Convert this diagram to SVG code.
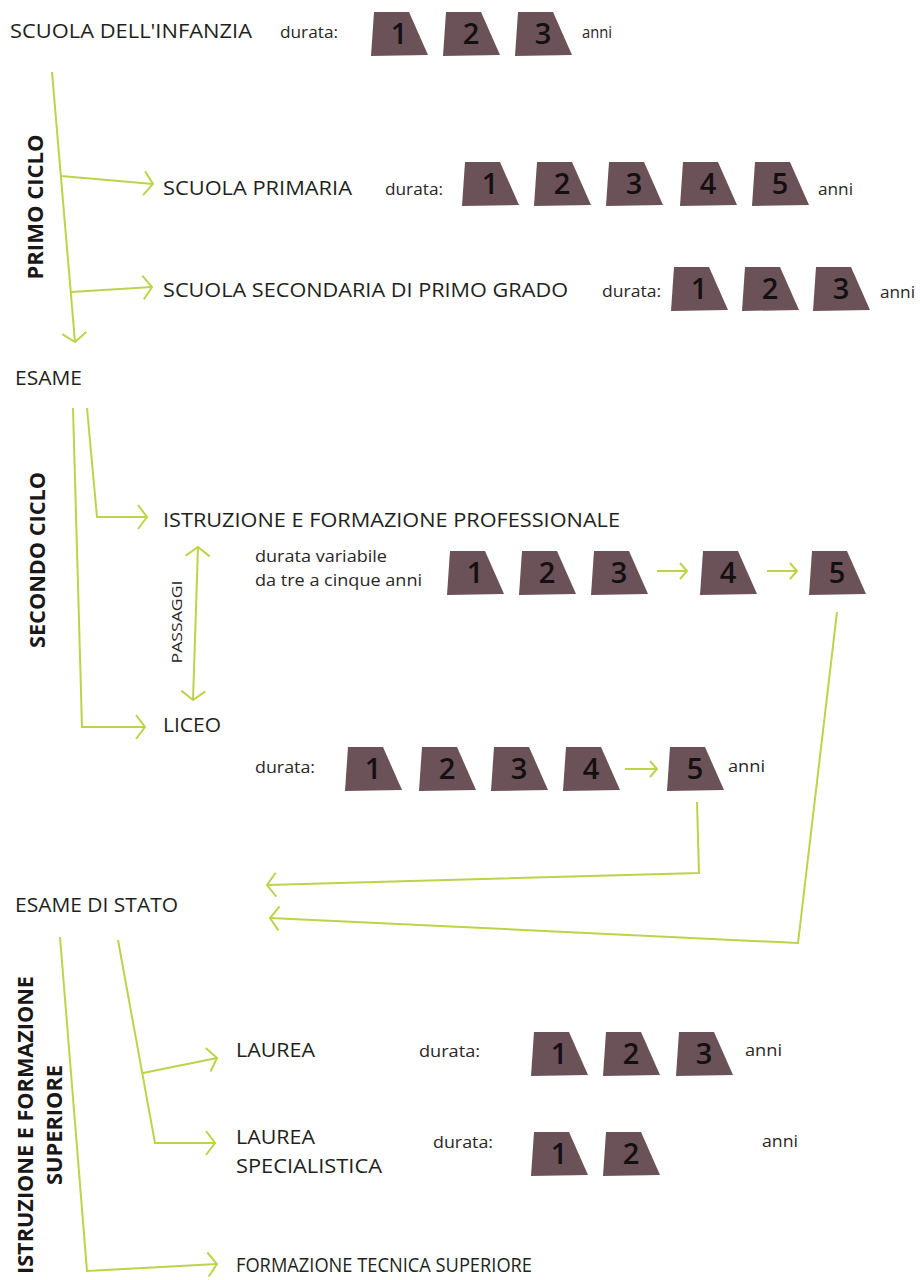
<svg xmlns="http://www.w3.org/2000/svg" xmlns:xlink="http://www.w3.org/1999/xlink" width="920" height="1280" viewBox="0 0 920 1280">
<style>
.lbl{font-family:"Open Sans","Noto Sans","Liberation Sans",sans-serif;font-size:20px;fill:#231f20}
.sm{font-family:"Open Sans","Noto Sans","Liberation Sans",sans-serif;font-size:16px;fill:#2a2526}
.rot{font-family:"Open Sans","Noto Sans","Liberation Sans",sans-serif;font-size:21px;font-weight:bold;fill:#1a1718}
.dg{font-family:"Open Sans","Noto Sans","Liberation Sans",sans-serif;font-size:29px;font-weight:600;fill:#141012;text-anchor:middle}
.tile{fill:#6b5158}
.ln{fill:none;stroke:#bcd34a;stroke-width:2;stroke-linejoin:miter}
</style>
<defs>
<path id="tile" class="tile" d="M3,0 L38,0 L57,43 L0,44 Z"/>
<marker id="ah" markerUnits="userSpaceOnUse" viewBox="-15 -15 30 30" markerWidth="30" markerHeight="30" refX="0" refY="0" orient="auto-start-reverse">
<path d="M-9,-12 L0,0 L-9,12" fill="none" stroke="#bcd34a" stroke-width="2"/>
</marker>
<marker id="ahs" markerUnits="userSpaceOnUse" viewBox="-15 -15 30 30" markerWidth="30" markerHeight="30" refX="0" refY="0" orient="auto">
<path d="M-7,-8 L0,0 L-7,8" fill="none" stroke="#bcd34a" stroke-width="2"/>
</marker>
</defs>
<rect width="920" height="1280" fill="#ffffff"/>

<g id="connectors">
<path class="ln" d="M52,72 L75,342" marker-end="url(#ah)"/>
<path class="ln" d="M61,176 L153,184" marker-end="url(#ah)"/>
<path class="ln" d="M71,292 L152,287" marker-end="url(#ah)"/>
<path class="ln" d="M73,408 L82,727 L145,727" marker-end="url(#ah)"/>
<path class="ln" d="M87,408 L97,517 L147,517" marker-end="url(#ah)"/>
<path class="ln" d="M198,547 L193,700" marker-start="url(#ah)" marker-end="url(#ah)"/>
<path class="ln" d="M657,571 L687,571" marker-end="url(#ahs)"/>
<path class="ln" d="M767,571 L797,571" marker-end="url(#ahs)"/>
<path class="ln" d="M625,769 L657,769" marker-end="url(#ahs)"/>
<path class="ln" d="M837,612 L798,943 L270,918" marker-end="url(#ah)"/>
<path class="ln" d="M697,802 L699,873 L267,885" marker-end="url(#ah)"/>
<path class="ln" d="M60,937 L87,1271 L217,1264" marker-end="url(#ah)"/>
<path class="ln" d="M118,940 L155,1143 L215,1143" marker-end="url(#ah)"/>
<path class="ln" d="M143,1073 L217,1058" marker-end="url(#ah)"/>
</g>

<g id="infanzia">
<text class="lbl" x="10" y="38" textLength="242" lengthAdjust="spacingAndGlyphs">SCUOLA DELL'INFANZIA</text>
<text class="sm" x="280" y="38" textLength="58" lengthAdjust="spacingAndGlyphs">durata:</text>
<use xlink:href="#tile" x="371" y="12"/><text class="dg" x="399" y="44">1</text>
<use xlink:href="#tile" x="443" y="12"/><text class="dg" x="471" y="44">2</text>
<use xlink:href="#tile" x="515" y="12"/><text class="dg" x="543" y="44">3</text>
<text class="sm" x="582" y="38" textLength="30" lengthAdjust="spacingAndGlyphs">anni</text>
</g>

<g id="primo-ciclo">
<text class="rot" transform="translate(43,207) rotate(-90)" text-anchor="middle" textLength="145" lengthAdjust="spacingAndGlyphs">PRIMO CICLO</text>
</g>

<g id="primaria">
<text class="lbl" x="163" y="195" textLength="189" lengthAdjust="spacingAndGlyphs">SCUOLA PRIMARIA</text>
<text class="sm" x="385" y="195" textLength="58" lengthAdjust="spacingAndGlyphs">durata:</text>
<use xlink:href="#tile" x="462" y="162"/><text class="dg" x="490" y="194">1</text>
<use xlink:href="#tile" x="534" y="162"/><text class="dg" x="562" y="194">2</text>
<use xlink:href="#tile" x="606" y="162"/><text class="dg" x="634" y="194">3</text>
<use xlink:href="#tile" x="680" y="162"/><text class="dg" x="708" y="194">4</text>
<use xlink:href="#tile" x="752" y="162"/><text class="dg" x="780" y="194">5</text>
<text class="sm" x="818" y="195" textLength="35" lengthAdjust="spacingAndGlyphs">anni</text>
</g>

<g id="secondaria">
<text class="lbl" x="163" y="297" textLength="405" lengthAdjust="spacingAndGlyphs">SCUOLA SECONDARIA DI PRIMO GRADO</text>
<text class="sm" x="602" y="297" textLength="59" lengthAdjust="spacingAndGlyphs">durata:</text>
<use xlink:href="#tile" x="671" y="267"/><text class="dg" x="699" y="299">1</text>
<use xlink:href="#tile" x="742" y="267"/><text class="dg" x="770" y="299">2</text>
<use xlink:href="#tile" x="813" y="267"/><text class="dg" x="841" y="299">3</text>
<text class="sm" x="880" y="298" textLength="35" lengthAdjust="spacingAndGlyphs">anni</text>
</g>

<g id="esame">
<text class="lbl" x="15" y="385" textLength="67" lengthAdjust="spacingAndGlyphs">ESAME</text>
</g>

<g id="secondo-ciclo">
<text class="rot" transform="translate(45,560) rotate(-90)" text-anchor="middle" textLength="176" lengthAdjust="spacingAndGlyphs">SECONDO CICLO</text>
</g>

<g id="professionale">
<text class="lbl" x="163" y="527" textLength="457" lengthAdjust="spacingAndGlyphs">ISTRUZIONE E FORMAZIONE PROFESSIONALE</text>
<text class="sm" x="255" y="562" textLength="132" lengthAdjust="spacingAndGlyphs">durata variabile</text>
<text class="sm" x="255" y="586" textLength="167" lengthAdjust="spacingAndGlyphs">da tre a cinque anni</text>
<use xlink:href="#tile" x="447" y="551"/><text class="dg" x="475" y="583">1</text>
<use xlink:href="#tile" x="519" y="551"/><text class="dg" x="547" y="583">2</text>
<use xlink:href="#tile" x="591" y="551"/><text class="dg" x="619" y="583">3</text>
<use xlink:href="#tile" x="700" y="551"/><text class="dg" x="728" y="583">4</text>
<use xlink:href="#tile" x="809" y="551"/><text class="dg" x="837" y="583">5</text>
</g>

<g id="passaggi">
<text class="sm" style="font-size:14px" transform="translate(182,622) rotate(-90)" text-anchor="middle" textLength="83" lengthAdjust="spacingAndGlyphs">PASSAGGI</text>
</g>

<g id="liceo">
<text class="lbl" x="163" y="732" textLength="58" lengthAdjust="spacingAndGlyphs">LICEO</text>
<text class="sm" x="255" y="773" textLength="60" lengthAdjust="spacingAndGlyphs">durata:</text>
<use xlink:href="#tile" x="345" y="747"/><text class="dg" x="373" y="779">1</text>
<use xlink:href="#tile" x="419" y="747"/><text class="dg" x="447" y="779">2</text>
<use xlink:href="#tile" x="491" y="747"/><text class="dg" x="519" y="779">3</text>
<use xlink:href="#tile" x="563" y="747"/><text class="dg" x="591" y="779">4</text>
<use xlink:href="#tile" x="667" y="747"/><text class="dg" x="695" y="779">5</text>
<text class="sm" x="728" y="772" textLength="37" lengthAdjust="spacingAndGlyphs">anni</text>
</g>

<g id="esame-di-stato">
<text class="lbl" x="15" y="912" textLength="163" lengthAdjust="spacingAndGlyphs">ESAME DI STATO</text>
</g>

<g id="istruzione-superiore">
<text class="rot" transform="translate(33,1125) rotate(-90)" text-anchor="middle" textLength="298" lengthAdjust="spacingAndGlyphs">ISTRUZIONE E FORMAZIONE</text>
<text class="rot" transform="translate(62,1125) rotate(-90)" text-anchor="middle" textLength="120" lengthAdjust="spacingAndGlyphs">SUPERIORE</text>
</g>

<g id="laurea">
<text class="lbl" x="236" y="1057" textLength="79" lengthAdjust="spacingAndGlyphs">LAUREA</text>
<text class="sm" x="419" y="1057" textLength="61" lengthAdjust="spacingAndGlyphs">durata:</text>
<use xlink:href="#tile" x="531" y="1032"/><text class="dg" x="559" y="1064">1</text>
<use xlink:href="#tile" x="603" y="1032"/><text class="dg" x="631" y="1064">2</text>
<use xlink:href="#tile" x="676" y="1032"/><text class="dg" x="704" y="1064">3</text>
<text class="sm" x="745" y="1056" textLength="37" lengthAdjust="spacingAndGlyphs">anni</text>
</g>

<g id="laurea-specialistica">
<text class="lbl" x="236" y="1144" textLength="79" lengthAdjust="spacingAndGlyphs">LAUREA</text>
<text class="lbl" x="236" y="1173" textLength="146" lengthAdjust="spacingAndGlyphs">SPECIALISTICA</text>
<text class="sm" x="433" y="1148" textLength="60" lengthAdjust="spacingAndGlyphs">durata:</text>
<use xlink:href="#tile" x="531" y="1132"/><text class="dg" x="559" y="1164">1</text>
<use xlink:href="#tile" x="603" y="1132"/><text class="dg" x="631" y="1164">2</text>
<text class="sm" x="762" y="1147" textLength="36" lengthAdjust="spacingAndGlyphs">anni</text>
</g>

<g id="formazione-tecnica">
<text class="lbl" x="236" y="1272" textLength="296" lengthAdjust="spacingAndGlyphs">FORMAZIONE TECNICA SUPERIORE</text>
</g>
</svg>
